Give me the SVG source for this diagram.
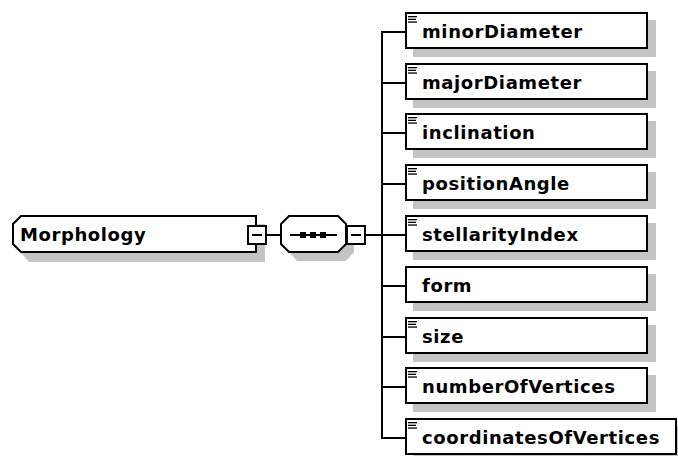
<svg xmlns="http://www.w3.org/2000/svg" width="678" height="456" viewBox="0 0 678 456">
  <style>
    .box { fill: #ffffff; stroke: #000000; stroke-width: 2; }
    .shadow { fill: #c4c4c4; stroke: none; }
    .wire { stroke: #000000; stroke-width: 2; fill: none; }
    .label { font-family: "DejaVu Sans", Verdana, sans-serif; font-weight: bold; font-size: 18px; letter-spacing: 0.6px; fill: #000000; }
    .icon { fill: #000000; }
  </style>
  <defs>
    <!-- simple-type marker drawn in the top-left corner of an element box -->
    <g id="simpleIcon">
      <rect class="icon" x="0" y="0" width="9" height="1.3"/>
      <rect class="icon" x="0" y="2.7" width="8" height="1.3"/>
      <rect class="icon" x="0" y="5.4" width="9" height="1.3"/>
    </g>
  </defs>

  <rect width="678" height="456" fill="#ffffff"/>

  <!-- connectors -->
  <g id="connectors">
    <line class="wire" x1="267" y1="235" x2="281" y2="235"/>
    <line class="wire" x1="366" y1="235" x2="382" y2="235"/>
    <line class="wire" x1="382" y1="31" x2="382" y2="439"/>
    <line class="wire" x1="381" y1="32" x2="405" y2="32"/>
    <line class="wire" x1="381" y1="83" x2="405" y2="83"/>
    <line class="wire" x1="381" y1="133" x2="405" y2="133"/>
    <line class="wire" x1="381" y1="184" x2="405" y2="184"/>
    <line class="wire" x1="381" y1="235" x2="405" y2="235"/>
    <line class="wire" x1="381" y1="286" x2="405" y2="286"/>
    <line class="wire" x1="381" y1="337" x2="405" y2="337"/>
    <line class="wire" x1="381" y1="387" x2="405" y2="387"/>
    <line class="wire" x1="381" y1="438" x2="405" y2="438"/>
  </g>

  <!-- root element -->
  <g id="Morphology">
    <polygon class="shadow" points="29,224 265,224 265,262 29,262 21,253 21,232"/>
    <polygon class="box" points="21,216 256,216 256,252 21,252 13,244 13,224"/>
    <text class="label" x="20" y="241">Morphology</text>
    <rect class="box" x="248" y="226" width="18" height="18"/>
    <line class="wire" x1="252" y1="235" x2="262" y2="235"/>
  </g>

  <!-- sequence compositor -->
  <g id="sequence">
    <polygon class="shadow" points="289,232 297,224 346,224 354,232 354,252 346,261 297,261 289,252"/>
    <polygon class="box" points="281,224 289,216 338,216 346,224 346,244 338,252 289,252 281,244"/>
    <line class="wire" x1="290" y1="235" x2="337" y2="235"/>
    <rect class="icon" x="300" y="232" width="6" height="6"/>
    <rect class="icon" x="310" y="232" width="6" height="6"/>
    <rect class="icon" x="320" y="232" width="6" height="6"/>
    <rect class="box" x="347" y="226" width="18" height="18"/>
    <line class="wire" x1="351" y1="235" x2="361" y2="235"/>
  </g>

  <!-- child elements -->
  <g id="minorDiameter">
    <rect class="shadow" x="413" y="20" width="243" height="37"/>
    <rect class="box" x="406" y="13" width="241" height="35"/>
    <use href="#simpleIcon" x="408" y="16"/>
    <text class="label" x="422" y="38">minorDiameter</text>
  </g>
  <g id="majorDiameter">
    <rect class="shadow" x="413" y="71" width="243" height="37"/>
    <rect class="box" x="406" y="64" width="241" height="35"/>
    <use href="#simpleIcon" x="408" y="67"/>
    <text class="label" x="422" y="89">majorDiameter</text>
  </g>
  <g id="inclination">
    <rect class="shadow" x="413" y="121" width="243" height="37"/>
    <rect class="box" x="406" y="114" width="241" height="35"/>
    <use href="#simpleIcon" x="408" y="117"/>
    <text class="label" x="422" y="139">inclination</text>
  </g>
  <g id="positionAngle">
    <rect class="shadow" x="413" y="172" width="243" height="37"/>
    <rect class="box" x="406" y="165" width="241" height="35"/>
    <use href="#simpleIcon" x="408" y="168"/>
    <text class="label" x="422" y="190">positionAngle</text>
  </g>
  <g id="stellarityIndex">
    <rect class="shadow" x="413" y="223" width="243" height="37"/>
    <rect class="box" x="406" y="216" width="241" height="35"/>
    <use href="#simpleIcon" x="408" y="219"/>
    <text class="label" x="422" y="241">stellarityIndex</text>
  </g>
  <g id="form">
    <rect class="shadow" x="413" y="274" width="243" height="37"/>
    <rect class="box" x="406" y="267" width="241" height="35"/>
    <text class="label" x="422" y="292">form</text>
  </g>
  <g id="size">
    <rect class="shadow" x="413" y="325" width="243" height="37"/>
    <rect class="box" x="406" y="318" width="241" height="35"/>
    <use href="#simpleIcon" x="408" y="321"/>
    <text class="label" x="422" y="343">size</text>
  </g>
  <g id="numberOfVertices">
    <rect class="shadow" x="413" y="375" width="243" height="37"/>
    <rect class="box" x="406" y="368" width="241" height="35"/>
    <use href="#simpleIcon" x="408" y="371"/>
    <text class="label" x="422" y="393">numberOfVertices</text>
  </g>
  <g id="coordinatesOfVertices">
    <rect class="shadow" x="413" y="426" width="272" height="37"/>
    <rect class="box" x="406" y="419" width="270" height="35"/>
    <use href="#simpleIcon" x="408" y="422"/>
    <text class="label" x="422" y="444">coordinatesOfVertices</text>
  </g>
</svg>
